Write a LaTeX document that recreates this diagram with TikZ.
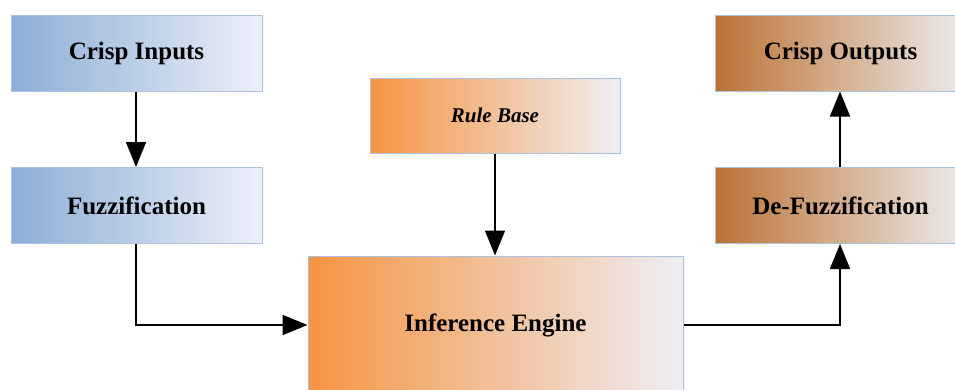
\documentclass[tikz,border=0pt]{standalone}
\usepackage{fontspec}
\setmainfont{Liberation Serif}
\usetikzlibrary{arrows.meta}
\definecolor{blueL}{RGB}{140,173,214}
\definecolor{blueR}{RGB}{236,240,248}
\definecolor{orangeL}{RGB}{245,148,66}
\definecolor{orangeR}{RGB}{238,238,243}
\definecolor{brownL}{RGB}{188,114,52}
\definecolor{brownR}{RGB}{237,236,236}
\definecolor{edgeblue}{RGB}{172,193,224}
\begin{document}
\begin{tikzpicture}[x=1pt,y=-1pt,
  box/.style={draw=edgeblue,line width=1pt,inner sep=0pt,
    minimum width=251pt,minimum height=76pt,
    font=\fontsize{25}{29}\selectfont\bfseries},
  bluebox/.style={box,left color=blueL,right color=blueR},
  orangebox/.style={box,left color=orangeL,right color=orangeR},
  brownbox/.style={box,left color=brownL,right color=brownR},
  flow/.style={draw=black,line width=1.6pt,
    -{Triangle[width=20pt,length=25pt]}}]
\useasboundingbox (0,0) rectangle (955,389);
\clip (0,0) rectangle (955,389);
\fill[white] (0,0) rectangle (955,389);

\node[bluebox] (in) at (136.5,53) {Crisp Inputs};
\node[bluebox] (fz) at (136.5,205.5) {Fuzzification};
\node[orangebox,minimum width=250pt,minimum height=75pt,
  font=\fontsize{21}{25}\selectfont\bfseries\itshape] (rb) at (495,115.5) {Rule Base};
\node[orangebox,minimum width=375pt,minimum height=138pt] (ie) at (495.5,325) {Inference Engine};
\node[brownbox] (out) at (840.5,53) {Crisp Outputs};
\node[brownbox] (dfz) at (840.5,205.5) {De-Fuzzification};

\coordinate (c1) at (136,325);
\coordinate (c2) at (840,325);

\draw[flow] (in.south -| c1) -- (fz.north -| c1);
\draw[flow] (fz.south -| c1) -- (c1) -- (ie.west |- c1);
\draw[flow] (rb.south) -- (rb.south |- ie.north);
\draw[flow] (ie.east |- c2) -- (c2) -- (dfz.south -| c2);
\draw[flow] (dfz.north -| c2) -- (out.south -| c2);
\end{tikzpicture}
\end{document}
